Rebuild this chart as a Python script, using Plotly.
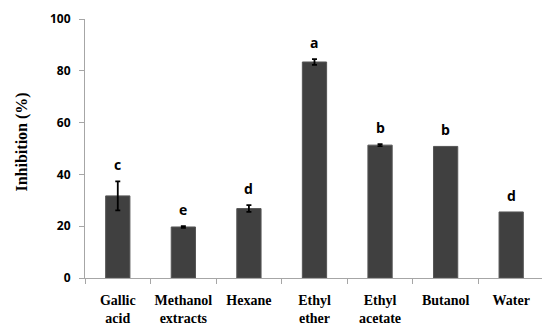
import plotly.graph_objects as go

# Inhibition (%) of each extract, with standard-deviation error bars and
# significance letters
categories = ["Gallic<br>acid", "Methanol<br>extracts", "Hexane", "Ethyl<br>ether",
              "Ethyl<br>acetate", "Butanol", "Water"]
inhibition = [31.7, 19.7, 26.8, 83.4, 51.3, 50.8, 25.5]
errors = [5.6, 0.3, 1.3, 1.1, 0.4, None, None]
letters = ["c", "e", "d", "a", "b", "b", "d"]
y_ticks = [0, 20, 40, 60, 80, 100]

axis_gray = "#a6a6a6"
serif = "Liberation Serif"

fig = go.Figure()
fig.add_trace(go.Bar(
    x=categories,
    y=inhibition,
    width=0.37,
    marker=dict(color="#404040", line=dict(color="#555555", width=1)),
))

# error bars only where a deviation was reported
has_err = [i for i, e in enumerate(errors) if e is not None]
fig.add_trace(go.Scatter(
    x=[categories[i] for i in has_err],
    y=[inhibition[i] for i in has_err],
    mode="markers",
    marker=dict(size=1, color="rgba(0,0,0,0)"),
    error_y=dict(type="data", array=[errors[i] for i in has_err], visible=True,
                 color="black", thickness=1.8, width=2.5),
    hoverinfo="skip",
))

# significance letters above each bar (or its error bar)
for cat, val, err, letter in zip(categories, inhibition, errors, letters):
    fig.add_annotation(
        x=cat, y=val + (err or 0), text=letter, showarrow=False,
        yanchor="bottom", yshift=5,
        font=dict(family="Open Sans", size=14, color="black", weight="bold"),
    )

# y-axis title
fig.add_annotation(
    x=0, y=0.5, xref="paper", yref="paper", xanchor="center", yanchor="middle",
    xshift=-64, yshift=6, textangle=-90, showarrow=False,
    text="<b>Inhibition (%)</b>",
    font=dict(family=serif, size=16, color="black"),
)

fig.update_layout(
    width=542, height=328,
    margin=dict(l=85, r=0, t=19, b=50),
    paper_bgcolor="white", plot_bgcolor="white",
    showlegend=False,
)
fig.update_xaxes(
    type="category", range=[-0.5, 6.47],
    categoryorder="array", categoryarray=categories,
    tickvals=categories, ticktext=["<b>" + c + "</b>" for c in categories],
    showline=True, linecolor=axis_gray, linewidth=1,
    ticks="outside", tickson="boundaries", ticklen=5, tickcolor=axis_gray,
    tickangle=0, automargin=False, ticklabelstandoff=9,
    tickfont=dict(family=serif, size=14, color="black"),
    showgrid=False,
)
fig.update_yaxes(
    range=[0, 100], tickvals=y_ticks,
    showline=True, linecolor=axis_gray, linewidth=1,
    ticks="outside", ticklen=5, tickcolor=axis_gray,
    ticklabelstandoff=6, automargin=False,
    tickfont=dict(family="Open Sans", size=12, color="black", weight="bold"),
    showgrid=False, zeroline=False,
)

fig.write_html("out.html")
